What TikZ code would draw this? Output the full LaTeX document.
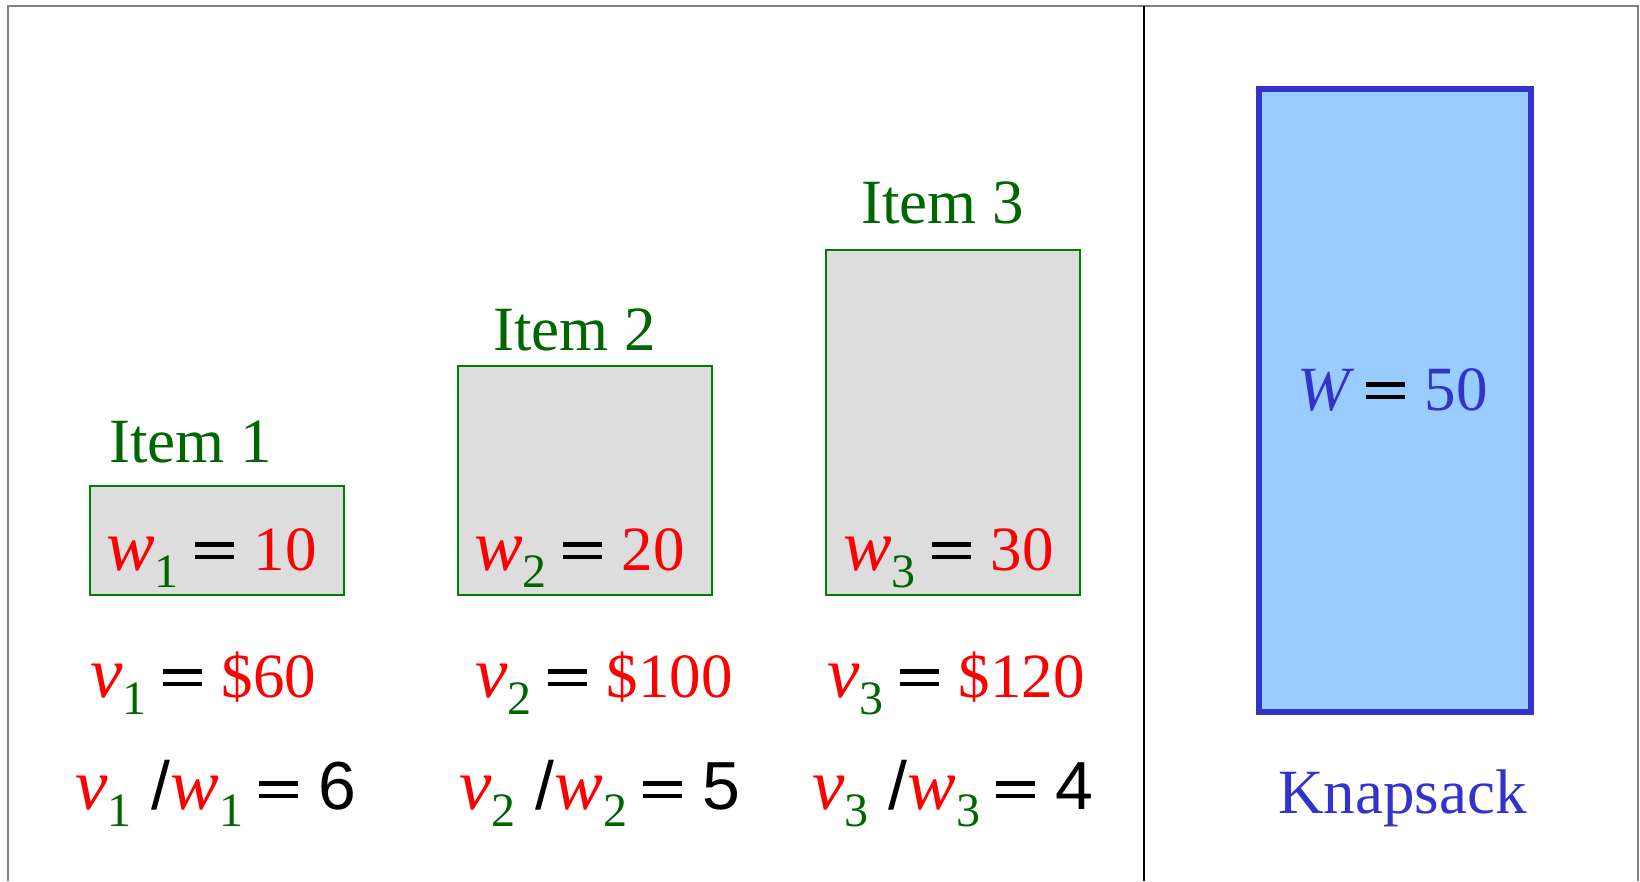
\documentclass[tikz,border=0pt]{standalone}
\usepackage{fontspec}
\setmainfont{Liberation Serif}
\newfontfamily\arialfont{Liberation Sans}
\usepackage{xcolor}
\usetikzlibrary{positioning}

\definecolor{itemred}{HTML}{FF0000}
\definecolor{itemgreen}{HTML}{006600}
\definecolor{boxgreen}{HTML}{008000}
\definecolor{boxgray}{HTML}{DDDDDD}
\definecolor{sackblue}{HTML}{3333CC}
\definecolor{sackfill}{HTML}{99CCFF}
\definecolor{framegray}{HTML}{808080}

\newcommand{\lowsub}[1]{\raisebox{-17pt}{\fontsize{48}{48}\selectfont\color{itemgreen}#1}}
\newcommand{\wvar}[1]{\textcolor{itemred}{\fontsize{73}{73}\selectfont\itshape w}\lowsub{#1}}
\newcommand{\vvar}[1]{\textcolor{itemred}{\fontsize{73}{73}\selectfont\itshape v}\lowsub{#1}}
\newcommand{\eqsign}{\hspace{16pt}\textcolor{black}{\rlap{\rule[11pt]{39pt}{4.5pt}}\rule[23.5pt]{39pt}{4.5pt}}\hspace{20pt}}
\newcommand{\slashsign}{\hspace{20pt}{\fontsize{68}{68}\selectfont\arialfont /}}
\newcommand{\ratio}[1]{{\fontsize{68}{68}\selectfont\arialfont #1}}

\begin{document}
\begin{tikzpicture}[x=1pt, y=-1pt,
    itembox/.style={rectangle, draw=boxgreen, line width=2pt, fill=boxgray, minimum width=254pt, anchor=south west, inner sep=0pt},
    sackbox/.style={rectangle, draw=sackblue, line width=6pt, fill=sackfill, minimum width=272pt, minimum height=623pt, anchor=north west, inner sep=0pt},
    itemlabel/.style={anchor=base west, text=itemgreen, font=\fontsize{63}{70}\selectfont, inner sep=0pt},
    expr/.style={anchor=base west, font=\fontsize{63}{70}\selectfont, inner sep=0pt}]

    \useasboundingbox (0,0) rectangle (1640,881);

    % Frame and divider
    \draw [framegray, line width=2pt] (8,881) -- (8,6) -- (1638,6) -- (1638,881);
    \draw [black, line width=2pt] (1144,6) -- (1144,881);

    % Items
    \node [itembox, minimum height=109pt] (box1) at (89,596) {};
    \node [itembox, minimum height=229pt] (box2) at (457,596) {};
    \node [itembox, minimum height=345pt] (box3) at (825,596) {};

    \node [itemlabel] (item1) at (109,462) {Item 1};
    \node [itemlabel] (item2) at (493,350) {Item 2};
    \node [itemlabel] (item3) at (861,223) {Item 3};

    % Weights
    \node [expr] (w1) at (106,570) {\wvar{1}\eqsign\textcolor{itemred}{10}};
    \node [expr] (w2) at (474,570) {\wvar{2}\eqsign\textcolor{itemred}{20}};
    \node [expr] (w3) at (843,570) {\wvar{3}\eqsign\textcolor{itemred}{30}};

    % Values
    \node [expr] (v1) at (90,697) {\vvar{1}\eqsign\textcolor{itemred}{\$60}};
    \node [expr] (v2) at (475,697) {\vvar{2}\eqsign\textcolor{itemred}{\$100}};
    \node [expr] (v3) at (827,697) {\vvar{3}\eqsign\textcolor{itemred}{\$120}};

    % Ratios
    \node [expr] (r1) at (75,809) {\vvar{1}\slashsign\wvar{1}\eqsign\ratio{6}};
    \node [expr] (r2) at (459,809) {\vvar{2}\slashsign\wvar{2}\eqsign\ratio{5}};
    \node [expr] (r3) at (812,809) {\vvar{3}\slashsign\wvar{3}\eqsign\ratio{4}};

    % Knapsack
    \node [sackbox] (sack) at (1256,86) {};
    \node [expr] (cap) at (1297,410) {\textcolor{sackblue}{\itshape W}\eqsign\textcolor{sackblue}{50}};
    \node [expr, text=sackblue] (sacklabel) at (1278,813) {Knapsack};

\end{tikzpicture}
\end{document}
